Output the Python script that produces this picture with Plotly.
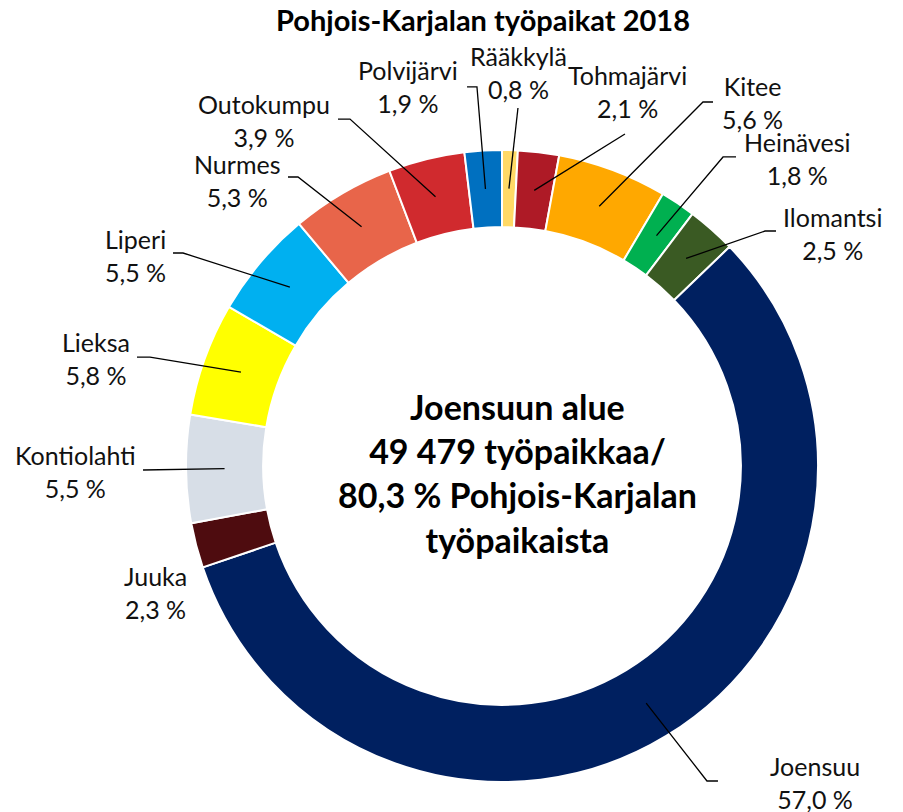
import math

import plotly.graph_objects as go

kunnat = ["Rääkkylä", "Tohmajärvi", "Kitee", "Heinävesi", "Ilomantsi", "Joensuu",
          "Juuka", "Kontiolahti", "Lieksa", "Liperi", "Nurmes", "Outokumpu", "Polvijärvi"]
osuudet = [0.8, 2.1, 5.6, 1.8, 2.5, 57.0, 2.3, 5.5, 5.8, 5.5, 5.3, 3.9, 1.9]
varit = ["#FFD966", "#AE1A26", "#FFA800", "#00B050", "#3A5A23", "#002060", "#4E0C0F",
         "#D7DEE7", "#FFFF00", "#00B0F0", "#E8654A", "#D02A2E", "#0070C0"]

otsikko = "Pohjois-Karjalan työpaikat 2018"
keskiteksti = "Joensuun alue<br>49 479 työpaikkaa/<br>80,3 % Pohjois-Karjalan<br>työpaikaista"

W, H = 903, 812
CX, CY, R, HOLE = 502, 466, 316, 0.756
FONT = "Lato"

# label block centres (px) and leader-line points near the label (px)
label_pos = {
    "Rääkkylä": (518, 72), "Tohmajärvi": (627, 92), "Kitee": (752, 102),
    "Heinävesi": (797, 159), "Ilomantsi": (832, 233), "Joensuu": (815, 782),
    "Juuka": (155, 592), "Kontiolahti": (75, 471), "Lieksa": (96, 358),
    "Liperi": (135, 255), "Nurmes": (237, 180), "Outokumpu": (264, 120),
    "Polvijärvi": (408, 87),
}
leader = {
    "Rääkkylä": [(518, 108)], "Tohmajärvi": [(625, 134)],
    "Kitee": [(713, 102), (703, 102)], "Heinävesi": [(736, 157), (723, 157)],
    "Ilomantsi": [(776, 231), (765, 231)], "Joensuu": [(718, 781), (707, 781)],
    "Kontiolahti": [(143, 470)], "Lieksa": [(137, 357), (150, 357)],
    "Liperi": [(173, 253), (183, 253)], "Nurmes": [(288, 177), (298, 177)],
    "Outokumpu": [(338, 119), (350, 119)], "Polvijärvi": [(467, 87), (477, 87)],
}


def px(x, y):
    return x / W, 1 - y / H


fig = go.Figure(go.Pie(
    labels=kunnat, values=osuudet, sort=False, direction="clockwise", rotation=0,
    hole=HOLE, textinfo="none", hoverinfo="label+percent",
    marker=dict(colors=varit, line=dict(color="white", width=2)),
    domain=dict(x=[(CX - R) / W, (CX + R) / W], y=[1 - (CY + R) / H, 1 - (CY - R) / H]),
    showlegend=False,
))

total = sum(osuudet)
r_mid = R * (1 + HOLE) / 2
cum = 0
shapes, annotations = [], []
for nimi, arvo in zip(kunnat, osuudet):
    theta = 2 * math.pi * (cum + arvo / 2) / total
    cum += arvo
    tip = (CX + r_mid * math.sin(theta), CY - r_mid * math.cos(theta))
    if nimi in leader:
        pts = leader[nimi] + [tip]
        path = "M " + " L ".join("%.4f,%.4f" % px(*p) for p in pts)
        shapes.append(dict(type="path", xref="paper", yref="paper", path=path,
                           line=dict(color="black", width=1.3)))
    lx, ly = px(*label_pos[nimi])
    teksti = f"{nimi}<br>{arvo:.1f} %".replace(".", ",")
    annotations.append(dict(x=lx, y=ly, xref="paper", yref="paper", text=teksti,
                            showarrow=False, xanchor="center", yanchor="middle",
                            font=dict(family=FONT, size=25, color="#111111")))

tx, ty = px(483, 20)
annotations.append(dict(x=tx, y=ty, xref="paper", yref="paper", text=f"<b>{otsikko}</b>",
                        showarrow=False, xanchor="center", yanchor="middle",
                        font=dict(family=FONT, size=29, color="black")))
kx, ky = px(517, 473)
annotations.append(dict(x=kx, y=ky, xref="paper", yref="paper", text=f"<b>{keskiteksti}</b>",
                        showarrow=False, xanchor="center", yanchor="middle",
                        font=dict(family=FONT, size=34, color="black")))

fig.update_layout(
    width=W, height=H, margin=dict(l=0, r=0, t=0, b=0),
    paper_bgcolor="white", plot_bgcolor="white",
    shapes=shapes, annotations=annotations,
)
# the page body has a default 8px margin; drop it so the figure fills the window
fig.write_html("out.html", config={"displayModeBar": False},
               post_script="document.body.style.margin='0px';")
